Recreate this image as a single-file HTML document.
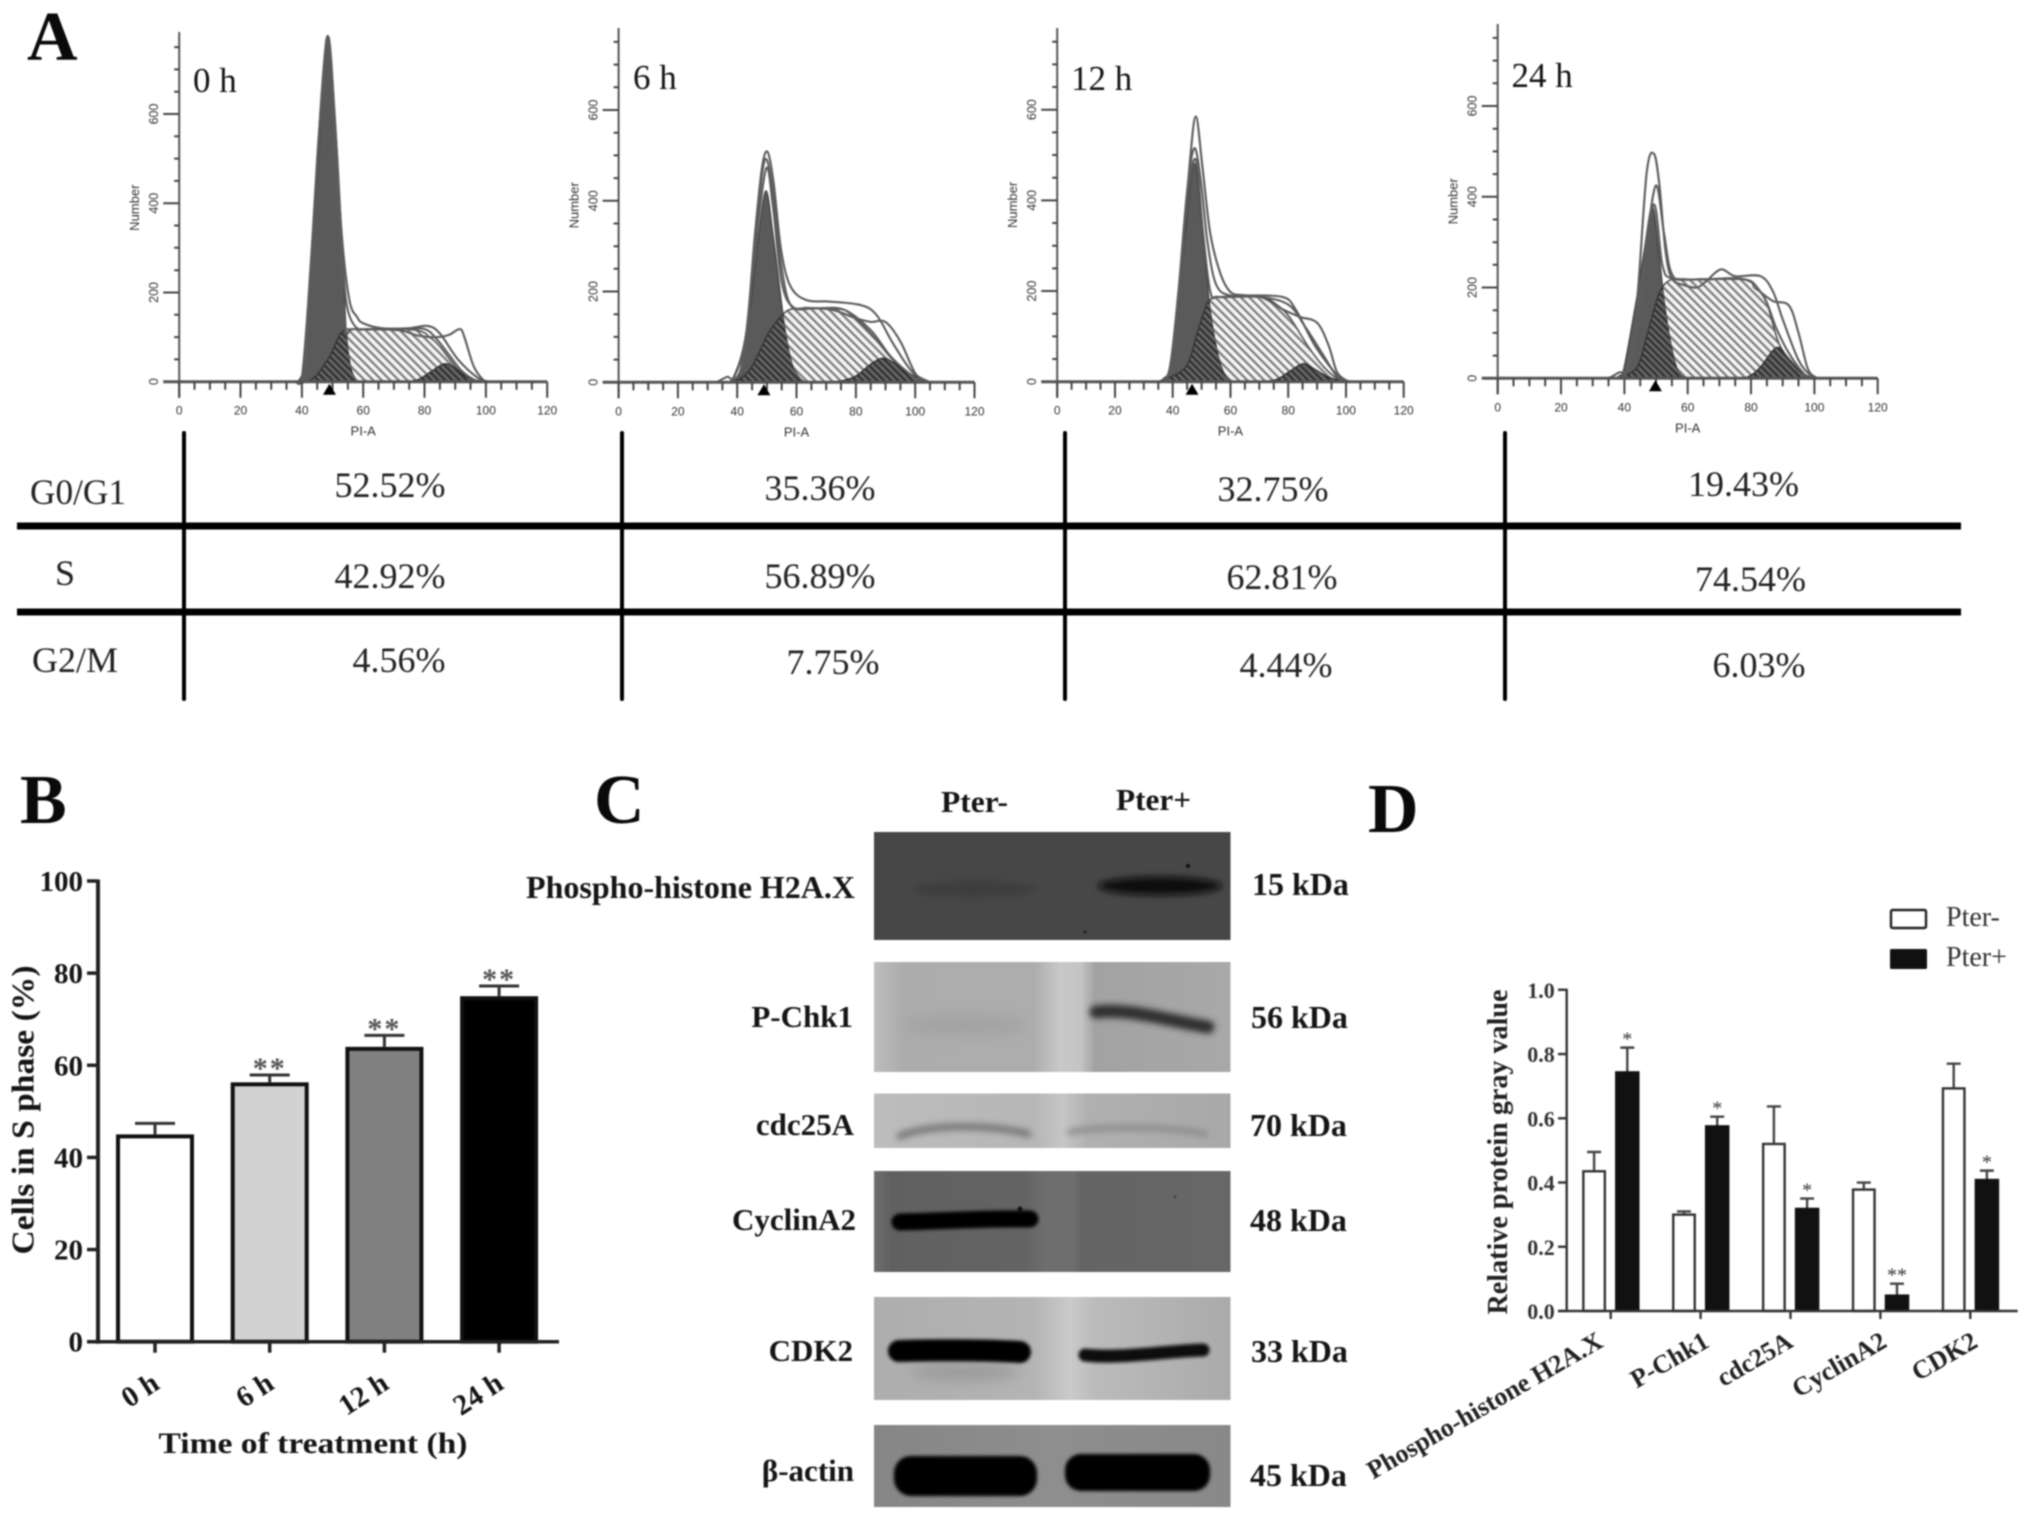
<!DOCTYPE html>
<html lang="en">
<head>
<meta charset="utf-8">
<title>Cell cycle analysis figure</title>
<style>
html,body{margin:0;padding:0;background:#fff;}
svg{display:block;filter:blur(0.7px);}
text{font-family:"Liberation Serif",serif;fill:#151515;}
.b{font-weight:bold;}
.sans{font-family:"Liberation Sans",sans-serif;fill:#333;}
.cell{font-size:36px;fill:#222;}
.lab{font-size:31px;font-weight:bold;}
.kda{font-size:32px;font-weight:bold;}
.letter{font-size:70px;font-weight:bold;fill:#0a0a0a;}
</style>
</head>
<body>
<svg id="fig" xmlns="http://www.w3.org/2000/svg" width="2031" height="1520" viewBox="0 0 2031 1520">
<defs>
<pattern id="hatchLight" patternUnits="userSpaceOnUse" width="6" height="6" patternTransform="rotate(-45)">
<rect width="6" height="6" fill="#f4f4f4"/><rect width="2.2" height="6" fill="#7a7a7a"/>
</pattern>
<pattern id="hatchDark" patternUnits="userSpaceOnUse" width="5" height="5" patternTransform="rotate(-45)">
<rect width="5" height="5" fill="#666"/><rect width="2.2" height="5" fill="#2e2e2e"/>
</pattern>
<filter id="blurTiny" filterUnits="userSpaceOnUse" x="860" y="820" width="390" height="700"><feGaussianBlur stdDeviation="1.7"/></filter>
<filter id="soft" filterUnits="userSpaceOnUse" x="860" y="820" width="390" height="700"><feGaussianBlur stdDeviation="3.2"/></filter>
<filter id="softer" filterUnits="userSpaceOnUse" x="860" y="820" width="390" height="700"><feGaussianBlur stdDeviation="7"/></filter>
<linearGradient id="laneChk" x1="0" x2="1" y1="0" y2="0">
<stop offset="0" stop-color="#bdbdbd"/><stop offset=".08" stop-color="#acacac"/><stop offset=".45" stop-color="#adadad"/><stop offset=".52" stop-color="#c8c8c8"/><stop offset=".58" stop-color="#c4c4c4"/><stop offset=".62" stop-color="#a2a2a2"/><stop offset="1" stop-color="#a8a8a8"/>
</linearGradient>
<linearGradient id="laneCdc" x1="0" x2="1" y1="0" y2="0">
<stop offset="0" stop-color="#bcbcbc"/><stop offset=".45" stop-color="#b6b6b6"/><stop offset=".53" stop-color="#c6c6c6"/><stop offset=".6" stop-color="#b0b0b0"/><stop offset="1" stop-color="#a8a8a8"/>
</linearGradient>
<linearGradient id="laneCyc" x1="0" x2="1" y1="0" y2="0">
<stop offset="0" stop-color="#6e6e6e"/><stop offset=".05" stop-color="#606060"/><stop offset=".42" stop-color="#636363"/><stop offset=".48" stop-color="#6e6e6e"/><stop offset=".56" stop-color="#6e6e6e"/><stop offset=".58" stop-color="#646464"/><stop offset="1" stop-color="#676767"/>
</linearGradient>
<linearGradient id="laneCdk" x1="0" x2="1" y1="0" y2="0">
<stop offset="0" stop-color="#adadad"/><stop offset=".45" stop-color="#b4b4b4"/><stop offset=".55" stop-color="#cacaca"/><stop offset=".62" stop-color="#bbb"/><stop offset="1" stop-color="#aaa"/>
</linearGradient>
<linearGradient id="laneAct" x1="0" x2="1" y1="0" y2="0">
<stop offset="0" stop-color="#858585"/><stop offset=".5" stop-color="#8e8e8e"/><stop offset="1" stop-color="#888"/>
</linearGradient>
</defs>

<rect width="2031" height="1520" fill="#fff"/>

<text class="letter" x="27" y="60">A</text>
<text class="letter" x="20" y="823">B</text>
<text class="letter" x="594" y="823">C</text>
<text class="letter" x="1368" y="832">D</text>

<g id="histograms"></g>

<g>
<rect x="17" y="522.5" width="1944" height="7" fill="#000"/>
<rect x="17" y="608.5" width="1944" height="7" fill="#000"/>
<rect x="182" y="431" width="4" height="270" rx="2" fill="#000"/>
<rect x="620" y="431" width="4" height="270" rx="2" fill="#000"/>
<rect x="1063" y="431" width="4" height="270" rx="2" fill="#000"/>
<rect x="1503" y="431" width="4" height="270" rx="2" fill="#000"/>
<text class="cell" x="30" y="504" textLength="96" lengthAdjust="spacingAndGlyphs">G0/G1</text>
<text class="cell" x="65" y="585" text-anchor="middle">S</text>
<text class="cell" x="32" y="672" textLength="86" lengthAdjust="spacingAndGlyphs">G2/M</text>
<text class="cell" x="390" y="497" text-anchor="middle">52.52%</text>
<text class="cell" x="820" y="500" text-anchor="middle">35.36%</text>
<text class="cell" x="1273" y="501" text-anchor="middle">32.75%</text>
<text class="cell" x="1743.5" y="496" text-anchor="middle">19.43%</text>
<text class="cell" x="390" y="588" text-anchor="middle">42.92%</text>
<text class="cell" x="820" y="588" text-anchor="middle">56.89%</text>
<text class="cell" x="1282" y="589" text-anchor="middle">62.81%</text>
<text class="cell" x="1750.5" y="591" text-anchor="middle">74.54%</text>
<text class="cell" x="399" y="672" text-anchor="middle">4.56%</text>
<text class="cell" x="833" y="674" text-anchor="middle">7.75%</text>
<text class="cell" x="1286" y="677" text-anchor="middle">4.44%</text>
<text class="cell" x="1759" y="677" text-anchor="middle">6.03%</text>
</g>

<g id="panelB"></g>

<g>
<text class="lab" x="941" y="812" textLength="67" lengthAdjust="spacingAndGlyphs">Pter-</text>
<text class="lab" x="1116" y="810" textLength="75" lengthAdjust="spacingAndGlyphs">Pter+</text>

<g>
<rect x="874" y="832" width="356.5" height="108" fill="#474747"/>
<ellipse cx="975" cy="889" rx="62" ry="8" fill="#3c3c3c" filter="url(#soft)"/>
<ellipse cx="1160" cy="886" rx="62" ry="9" fill="#080808" filter="url(#soft)"/>
<circle cx="1188" cy="866" r="2" fill="#111"/>
<circle cx="1085" cy="932" r="1.5" fill="#222"/>
</g>
<g>
<rect x="874" y="962" width="356.5" height="110" fill="url(#laneChk)"/>
<ellipse cx="965" cy="1025" rx="62" ry="10" fill="#a2a2a2" filter="url(#softer)"/>
<path d="M1096,1012 C1130,1008 1170,1021 1208,1027" fill="none" stroke="#2e2e2e" stroke-width="13" stroke-linecap="round" filter="url(#soft)"/>
</g>
<g>
<rect x="874" y="1093.5" width="356.5" height="54.5" fill="url(#laneCdc)"/>
<path d="M900,1136 C930,1124 990,1124 1028,1134" fill="none" stroke="#777" stroke-width="7" stroke-linecap="round" filter="url(#soft)"/>
<path d="M1070,1132 C1100,1126 1170,1126 1205,1134" fill="none" stroke="#8c8c8c" stroke-width="6" stroke-linecap="round" filter="url(#soft)"/>
</g>
<g>
<rect x="874" y="1171" width="356.5" height="101" fill="url(#laneCyc)"/>
<path d="M900,1222 C945,1221 990,1218 1030,1219" fill="none" stroke="#060606" stroke-width="17" stroke-linecap="round" filter="url(#blurTiny)"/>
<circle cx="1020" cy="1209" r="2.5" fill="#111"/>
<circle cx="1175" cy="1197" r="1.5" fill="#444"/>
</g>
<g>
<rect x="874" y="1297" width="356.5" height="103" fill="url(#laneCdk)"/>
<ellipse cx="965" cy="1372" rx="55" ry="8" fill="#989898" filter="url(#softer)"/>
<path d="M899,1351 C940,1350 985,1350 1020,1352" fill="none" stroke="#060606" stroke-width="22" stroke-linecap="round" filter="url(#blurTiny)"/>
<path d="M1085,1355 C1120,1359 1165,1351 1203,1350" fill="none" stroke="#101010" stroke-width="13" stroke-linecap="round" filter="url(#blurTiny)"/>
</g>
<g>
<rect x="874" y="1425" width="356.5" height="82" fill="url(#laneAct)"/>
<rect x="894" y="1456" width="143" height="40" rx="17" fill="#050505" filter="url(#blurTiny)"/>
<rect x="1065" y="1454" width="145" height="37" rx="16" fill="#050505" filter="url(#blurTiny)"/>
</g>

<text class="lab" style="font-size:32px" x="855" y="898" text-anchor="end">Phospho-histone H2A.X</text>
<text class="lab" x="853" y="1027" text-anchor="end">P-Chk1</text>
<text class="lab" x="854" y="1135" text-anchor="end">cdc25A</text>
<text class="lab" x="856" y="1230" text-anchor="end">CyclinA2</text>
<text class="lab" x="853" y="1361" text-anchor="end">CDK2</text>
<text class="lab" x="854" y="1481" text-anchor="end">β-actin</text>
<text class="kda" x="1252" y="895">15 kDa</text>
<text class="kda" x="1251" y="1028">56 kDa</text>
<text class="kda" x="1250" y="1136">70 kDa</text>
<text class="kda" x="1250" y="1231">48 kDa</text>
<text class="kda" x="1251" y="1362">33 kDa</text>
<text class="kda" x="1250" y="1486">45 kDa</text>
</g>

<g id="panelD"></g>
</svg>

<script>
/* ---------- Panel A data: PI-A channel vs. cell number ---------- */
const timeLabels = ['0 h', '6 h', '12 h', '24 h'];
const xTickValues = [0, 20, 40, 60, 80, 100, 120];
const yTickValues = [0, 200, 400, 600];
const markerChannels = [49, 49, 46.7, 49.8];

const g1Curve0h = [[38,0],[39.5,8],[41,50],[42.8,258],[45.3,483],[47,700],[48.4,765],[49.7,700],[51.8,483],[53.4,258],[54.5,108],[56,30],[58,0]];
const sCurve0h = [[42,0],[44.5,12],[47,35],[49.5,62],[52,100],[54,116],[57,118],[76.7,116],[82,98],[85,79],[88,52],[91,26],[95,4],[98,0]];
const g2Curve0h = [[74,0],[78,5],[82,22],[86.5,40],[90,30],[94,10],[98.5,0]];
const fitA0h = [[38,0],[40,10],[42,170],[44,380],[46,600],[47.5,735],[48.4,775],[49.4,735],[51,560],[53,330],[55.5,183],[58,145],[60,131],[66,120],[75,120],[81,125],[85,108],[91,49],[97.5,8],[101,0]];
const fitB0h = [[39,0],[41,20],[43,240],[45.5,540],[47.5,730],[48.4,768],[49.6,700],[51.5,450],[53.5,250],[55,160],[58,120],[62,118],[72,115],[78,103],[84,100],[88,105],[91.5,118],[93,100],[96,35],[99,5],[101,0]];
const fitC0h = [[40,0],[42,150],[45,500],[47.5,720],[48.4,760],[49.6,690],[51.5,420],[54,130],[57,118],[72,118],[80,118],[84,95],[88,60],[92,25],[96,5],[99,0]];

const g1Curve6h = [[38,0],[39.8,8],[41.3,35],[44.7,181],[47.3,328],[49.7,422],[52,328],[54.8,181],[56.3,108],[58.5,40],[61,10],[63,0]];
const sCurve6h = [[38,0],[41,8],[45,35],[50.5,108],[54.8,145],[58,161],[64,162],[75.3,161],[80,140],[85,108],[91.4,57],[98,12],[103,0]];
const g2Curve6h = [[69,0],[75,3],[80,14],[85,40],[89.2,53],[93,42],[98,20],[105,0]];
const fitA6h = [[33,0],[36.6,12],[39,14],[43,108],[46,328],[48.4,475],[50.3,507],[52.3,438],[54.8,291],[58,211],[63.4,181],[71,178],[81.7,170],[87,148],[92.5,86],[99,23],[105,0]];
const fitB6h = [[36,0],[39,12],[43,100],[46,310],[48.4,460],[50,490],[52,420],[54.8,260],[58,170],[64,164],[72,160],[80,141],[85,133],[90,133],[95,90],[100,20],[104,0]];
const fitC6h = [[38,0],[42,50],[46,290],[49.7,470],[52,390],[55,220],[59,165],[66,163],[76,160],[85,115],[92,55],[100,10],[104,0]];

const g1Curve12h = [[35,0],[37,8],[39,33],[42,180],[44.4,327],[47.5,482],[50.3,327],[52.6,180],[54.2,107],[56.5,40],[58.8,8],[61,0]];
const sCurve12h = [[35,0],[37,4],[44.6,33],[48.5,107],[52,173],[55.4,186],[60,188],[71.3,186],[76,170],[80.4,143],[87,77],[92,35],[96,11],[100,0]];
const g2Curve12h = [[70,0],[76,5],[81,25],[85.4,40],[89,28],[94,10],[100,0]];
const fitA12h = [[35,0],[38,10],[40,70],[43,254],[45.8,474],[48,585],[50.3,474],[53,327],[56.5,239],[60,198],[64.5,191],[78,187],[82.7,158],[89.5,77],[97.5,11],[102,0]];
const fitB12h = [[36,0],[39,30],[42,200],[45,420],[47.5,515],[49.8,440],[52,310],[55,215],[60,190],[70,188],[78,160],[84,143],[90,130],[94,80],[97,20],[101,0]];
const fitC12h = [[36,0],[39,25],[42,180],[45,400],[48,490],[50.5,330],[53,200],[56,187],[70,187],[80,170],[86,120],[92,60],[97,10],[100,0]];

const g1Curve24h = [[37,0],[38.5,6],[40,26],[43.8,173],[46.3,283],[48.8,379],[50.8,283],[52.5,173],[54.1,99],[56,35],[57.7,8],[60,0]];
const sCurve24h = [[37,0],[39,4],[44.2,26],[47.3,99],[51,187],[54.6,217],[60,218],[78.4,217],[81,200],[84.6,173],[88.8,77],[93,35],[97,7],[100,0]];
const g2Curve24h = [[74,0],[79,3],[83,25],[88.2,68],[92,40],[96,12],[100,0]];
const fitA24h = [[35,0],[38,12],[41,30],[44,170],[47,450],[49.3,495],[51,430],[53,280],[55,220],[59,205],[63,200],[66,215],[70.5,240],[75,225],[83,225],[87,190],[90,130],[95,40],[99,5],[101,0]];
const fitB24h = [[37,0],[41,20],[44,130],[47,300],[50,425],[52.5,320],[55,230],[60,218],[78,218],[83,190],[87,170],[92,160],[95,100],[98,20],[101,0]];
const fitC24h = [[38,0],[41,15],[44,100],[49,380],[52,250],[55,220],[65,218],[78,218],[84,180],[88,110],[92,55],[97,8],[100,0]];

const g1Curves = [g1Curve0h, g1Curve6h, g1Curve12h, g1Curve24h];
const sCurves = [sCurve0h, sCurve6h, sCurve12h, sCurve24h];
const g2Curves = [g2Curve0h, g2Curve6h, g2Curve12h, g2Curve24h];
const fitACurves = [fitA0h, fitA6h, fitA12h, fitA24h];
const fitBCurves = [fitB0h, fitB6h, fitB12h, fitB24h];
const fitCCurves = [fitC0h, fitC6h, fitC12h, fitC24h];

/* ---------- Panel B data ---------- */
const bCategories = ['0 h', '6 h', '12 h', '24 h'];
const bMeans = [45, 56.3, 64, 75];
const bErrorTops = [47.4, 57.9, 66.5, 77.2];
const bStars = ['', '**', '**', '**'];
const bFills = ['#ffffff', '#d2d2d2', '#808080', '#000000'];
const bTickValues = [0, 20, 40, 60, 80, 100];

/* ---------- Panel D data ---------- */
const dCategories = ['Phospho-histone H2A.X', 'P-Chk1', 'cdc25A', 'CyclinA2', 'CDK2'];
const dMinusMeans = [0.435, 0.30, 0.52, 0.378, 0.693];
const dMinusErrorTops = [0.495, 0.31, 0.637, 0.40, 0.77];
const dPlusMeans = [0.745, 0.577, 0.32, 0.05, 0.41];
const dPlusErrorTops = [0.82, 0.605, 0.35, 0.085, 0.437];
const dStars = ['*', '*', '*', '**', '*'];
const dTickValues = [0, 0.2, 0.4, 0.6, 0.8, 1.0];

/* ---------- helpers ---------- */
const NS = 'http://www.w3.org/2000/svg';
function mk(tag, attrs, parent) {
  const n = document.createElementNS(NS, tag);
  for (const k in attrs) n.setAttribute(k, attrs[k]);
  parent.appendChild(n);
  return n;
}
function smooth(pts) {
  let d = 'M' + pts[0][0].toFixed(2) + ',' + pts[0][1].toFixed(2);
  for (let i = 0; i < pts.length - 1; i++) {
    const p0 = pts[Math.max(i - 1, 0)], p1 = pts[i], p2 = pts[i + 1], p3 = pts[Math.min(i + 2, pts.length - 1)];
    const c1x = p1[0] + (p2[0] - p0[0]) / 6, c1y = p1[1] + (p2[1] - p0[1]) / 6;
    const c2x = p2[0] - (p3[0] - p1[0]) / 6, c2y = p2[1] - (p3[1] - p1[1]) / 6;
    d += 'C' + c1x.toFixed(2) + ',' + c1y.toFixed(2) + ' ' + c2x.toFixed(2) + ',' + c2y.toFixed(2) + ' ' + p2[0].toFixed(2) + ',' + p2[1].toFixed(2);
  }
  return d;
}

/* ---------- Panel A ---------- */
const frames = [
  {x0: 179.2, x120: 547.2, y0: 381.7, y600: 114, top: 32, labelX: 193, labelY: 92},
  {x0: 618.6, x120: 974.5, y0: 382.3, y600: 110, top: 28, labelX: 633, labelY: 89},
  {x0: 1057.2, x120: 1403.7, y0: 381.7, y600: 109.7, top: 28, labelX: 1071, labelY: 90},
  {x0: 1497.7, x120: 1877.7, y0: 378.3, y600: 106, top: 24, labelX: 1511.5, labelY: 87}
];
const histRoot = document.getElementById('histograms');
const defsRoot = document.querySelector('#fig defs');

timeLabels.forEach(function (label, i) {
  const f = frames[i];
  const sx = function (v) { return f.x0 + v * (f.x120 - f.x0) / 120; };
  const sy = function (c) { return f.y0 - c * (f.y0 - f.y600) / 600; };
  const toPx = function (arr) { return arr.map(function (p) { return [sx(p[0]), sy(p[1])]; }); };
  const g = mk('g', {}, histRoot);
  
  

  const g1Path = smooth(toPx(g1Curves[i])) + 'Z';
  const sPath = smooth(toPx(sCurves[i])) + 'Z';
  const g2Path = smooth(toPx(g2Curves[i])) + 'Z';

  const clip = mk('clipPath', {id: 'g1clip' + i}, defsRoot);
  
  
  const clipShape = mk('path', {d: g1Path}, clip);
  
  

  const sArea = mk('path', {d: sPath, fill: 'url(#hatchLight)', stroke: '#555', 'stroke-width': 1.6}, g);
  
  

  const g1Area = mk('path', {d: g1Path, fill: '#5a5a5a', stroke: '#444', 'stroke-width': 1.4}, g);
  
  

  const overlap = mk('path', {d: sPath, fill: 'url(#hatchDark)', stroke: '#333', 'stroke-width': 1.4, 'clip-path': 'url(#g1clip' + i + ')'}, g);
  
  

  const g2Area = mk('path', {d: g2Path, fill: 'url(#hatchDark)', stroke: '#333', 'stroke-width': 1.4}, g);
  
  

  const fitA = mk('path', {d: smooth(toPx(fitACurves[i])), fill: 'none', stroke: '#5c5c5c', 'stroke-width': 2.1}, g);
  
  
  const fitB = mk('path', {d: smooth(toPx(fitBCurves[i])), fill: 'none', stroke: '#5c5c5c', 'stroke-width': 2.1}, g);
  
  
  const fitC = mk('path', {d: smooth(toPx(fitCCurves[i])), fill: 'none', stroke: '#5c5c5c', 'stroke-width': 2.1}, g);
  
  

  /* axes */
  const yAxis = mk('line', {x1: f.x0, x2: f.x0, y1: f.top, y2: f.y0 + 16, stroke: '#555', 'stroke-width': 2}, g);
  
  
  const xAxis = mk('line', {x1: f.x0 - 16, x2: f.x120, y1: f.y0, y2: f.y0, stroke: '#555', 'stroke-width': 3}, g);
  
  

  let ticks = '';
  for (let v = 0; v <= 120; v += 5) {
    ticks += 'M' + sx(v).toFixed(1) + ',' + f.y0 + 'V' + (f.y0 + (v % 20 === 0 ? 16 : 8));
  }
  for (let c = 50; c <= 750; c += 50) {
    ticks += 'M' + f.x0 + ',' + sy(c).toFixed(1) + 'H' + (f.x0 - (c % 200 === 0 ? 16 : 5));
  }
  const tickPath = mk('path', {d: ticks, stroke: '#444', 'stroke-width': 2, fill: 'none'}, g);
  
  

  xTickValues.forEach(function (v) {
    const t = mk('text', {x: sx(v), y: f.y0 + 33, 'text-anchor': 'middle', 'font-size': 12, class: 'sans'}, g);
    
    
    t.textContent = v;
  });
  yTickValues.forEach(function (c) {
    const t = mk('text', {transform: 'translate(' + (f.x0 - 21) + ',' + sy(c) + ') rotate(-90)', 'text-anchor': 'middle', 'font-size': 12.5, class: 'sans'}, g);
    
    
    t.textContent = c;
  });

  const yTitle = mk('text', {transform: 'translate(' + (f.x0 - 40) + ',' + sy(390) + ') rotate(-90)', 'text-anchor': 'middle', 'font-size': 13, class: 'sans'}, g);
  
  
  yTitle.textContent = 'Number';

  const xTitle = mk('text', {x: sx(60), y: f.y0 + 54, 'text-anchor': 'middle', 'font-size': 13, class: 'sans'}, g);
  
  
  xTitle.textContent = 'PI-A';

  const mx = sx(markerChannels[i]);
  const marker = mk('path', {d: 'M' + mx + ',' + (f.y0 + 2) + 'L' + (mx + 6.5) + ',' + (f.y0 + 13) + 'L' + (mx - 6.5) + ',' + (f.y0 + 13) + 'Z', fill: '#000'}, g);
  
  

  const timeText = mk('text', {x: f.labelX, y: f.labelY, 'font-size': 35, fill: '#222'}, g);
  
  
  timeText.textContent = label;
});

/* ---------- Panel B ---------- */
(function () {
  const root = document.getElementById('panelB');
  const y0 = 1341.7, y100 = 881;
  const sy = function (v) { return y0 - v * (y0 - y100) / 100; };
  const sx = function (i) { return 155 + i * 114.7; };

  bCategories.forEach(function (cat, i) {
    const cx = sx(i);
    const err = mk('path', {d: 'M' + cx + ',' + sy(bMeans[i]) + 'V' + sy(bErrorTops[i]) + 'M' + (cx - 20) + ',' + sy(bErrorTops[i]) + 'H' + (cx + 20), stroke: '#333', 'stroke-width': 3, fill: 'none'}, root);
    
    

    const bar = mk('rect', {x: cx - 37, y: sy(bMeans[i]) + 2, width: 74, height: y0 - sy(bMeans[i]) - 2, fill: bFills[i], stroke: '#111', 'stroke-width': 4}, root);
    
    

    if (bStars[i]) {
      const star = mk('text', {x: cx, y: sy(bErrorTops[i]) + 3, 'text-anchor': 'middle', 'font-size': 30, class: 'b', style: 'fill:#555;letter-spacing:2px'}, root);
      
      
      star.textContent = bStars[i];
    }

    const tick = mk('line', {x1: cx, x2: cx, y1: y0, y2: y0 + 11, stroke: '#222', 'stroke-width': 3.5}, root);
    
    

    const lab = mk('text', {transform: 'translate(' + (cx + 6) + ',' + (y0 + 46) + ') rotate(-33)', 'text-anchor': 'end', 'font-size': 29, class: 'b'}, root);
    
    
    lab.textContent = cat;
  });

  const yAxis = mk('line', {x1: 98, x2: 98, y1: y100 - 1.5, y2: y0 + 2, stroke: '#222', 'stroke-width': 4}, root);
  
  
  const xAxis = mk('line', {x1: 87, x2: 559, y1: y0, y2: y0, stroke: '#222', 'stroke-width': 3.5}, root);
  
  

  bTickValues.forEach(function (v) {
    const tick = mk('line', {x1: 87, x2: 98, y1: sy(v), y2: sy(v), stroke: '#222', 'stroke-width': 3.5}, root);
    
    
    const lab = mk('text', {x: 83, y: sy(v) + 10, 'text-anchor': 'end', 'font-size': 29, class: 'b'}, root);
    
    
    lab.textContent = v;
  });

  const yTitle = mk('text', {transform: 'translate(33.5,1110) rotate(-90)', 'text-anchor': 'middle', 'font-size': 32, class: 'b', textLength: 289, lengthAdjust: 'spacingAndGlyphs'}, root);
  
  
  yTitle.textContent = 'Cells in S phase (%)';

  const xTitle = mk('text', {x: 313, y: 1453, 'text-anchor': 'middle', 'font-size': 30, class: 'b', textLength: 309, lengthAdjust: 'spacingAndGlyphs'}, root);
  
  
  xTitle.textContent = 'Time of treatment (h)';
})();

/* ---------- Panel D ---------- */
(function () {
  const root = document.getElementById('panelD');
  const y0 = 1311, y1 = 989.8;
  const sy = function (v) { return y0 - v * (y0 - y1); };
  const sx = function (i) { return 1610.7 + i * 89.9; };
  const barW = 21.5;
  const labelNudge = [-6, 10, 4, 8, 9];

  dCategories.forEach(function (cat, i) {
    const cx = sx(i);
    const xm = cx - 16.6, xp = cx + 16.6;

    const errM = mk('path', {d: 'M' + xm + ',' + sy(dMinusMeans[i]) + 'V' + sy(dMinusErrorTops[i]) + 'M' + (xm - 7) + ',' + sy(dMinusErrorTops[i]) + 'H' + (xm + 7), stroke: '#444', 'stroke-width': 2.4, fill: 'none'}, root);
    
    
    const barM = mk('rect', {x: xm - barW / 2, y: sy(dMinusMeans[i]), width: barW, height: y0 - sy(dMinusMeans[i]), fill: '#fff', stroke: '#333', 'stroke-width': 2.4}, root);
    
    

    const errP = mk('path', {d: 'M' + xp + ',' + sy(dPlusMeans[i]) + 'V' + sy(dPlusErrorTops[i]) + 'M' + (xp - 7) + ',' + sy(dPlusErrorTops[i]) + 'H' + (xp + 7), stroke: '#444', 'stroke-width': 2.4, fill: 'none'}, root);
    
    
    const barP = mk('rect', {x: xp - barW / 2 - 1, y: sy(dPlusMeans[i]), width: barW + 2, height: y0 - sy(dPlusMeans[i]), fill: '#111', stroke: '#111', 'stroke-width': 1}, root);
    
    

    const star = mk('text', {x: xp, y: sy(dPlusErrorTops[i]) - 2, 'text-anchor': 'middle', 'font-size': 20, style: 'fill:#333'}, root);
    
    
    star.textContent = dStars[i];

    const tick = mk('line', {x1: cx, x2: cx, y1: y0, y2: y0 + 8, stroke: '#333', 'stroke-width': 2.4}, root);
    
    

    const lab = mk('text', {transform: 'translate(' + (cx + labelNudge[i]) + ',' + (y0 + 35) + ') rotate(-30)', 'text-anchor': 'end', 'font-size': 26, class: 'b', style: 'fill:#222'}, root);
    
    
    lab.textContent = cat;
  });

  const yAxis = mk('line', {x1: 1566.7, x2: 1566.7, y1: y1 - 1, y2: y0 + 1, stroke: '#333', 'stroke-width': 2.4}, root);
  
  
  const xAxis = mk('line', {x1: 1558, x2: 2017.7, y1: y0, y2: y0, stroke: '#333', 'stroke-width': 2.4}, root);
  
  

  dTickValues.forEach(function (v) {
    const tick = mk('line', {x1: 1558, x2: 1566.7, y1: sy(v), y2: sy(v), stroke: '#333', 'stroke-width': 2.4}, root);
    
    
    const lab = mk('text', {x: 1554.7, y: sy(v) + 8, 'text-anchor': 'end', 'font-size': 22, class: 'b', style: 'fill:#333'}, root);
    
    
    lab.textContent = v.toFixed(1);
  });

  const yTitle = mk('text', {transform: 'translate(1507,1152) rotate(-90)', 'text-anchor': 'middle', 'font-size': 28, class: 'b', textLength: 325, lengthAdjust: 'spacingAndGlyphs', style: 'fill:#222'}, root);
  
  
  yTitle.textContent = 'Relative protein gray value';

  const legM = mk('rect', {x: 1891, y: 910, width: 35, height: 18, rx: 1.5, fill: '#fff', stroke: '#222', 'stroke-width': 2.4}, root);
  
  
  const legMT = mk('text', {x: 1946, y: 926, 'font-size': 28, style: 'fill:#333'}, root);
  
  
  legMT.textContent = 'Pter-';
  const legP = mk('rect', {x: 1890, y: 949, width: 37, height: 20, rx: 1.5, fill: '#111'}, root);
  
  
  const legPT = mk('text', {x: 1946, y: 966, 'font-size': 28, style: 'fill:#333'}, root);
  
  
  legPT.textContent = 'Pter+';
})();
</script>
</body>
</html>
